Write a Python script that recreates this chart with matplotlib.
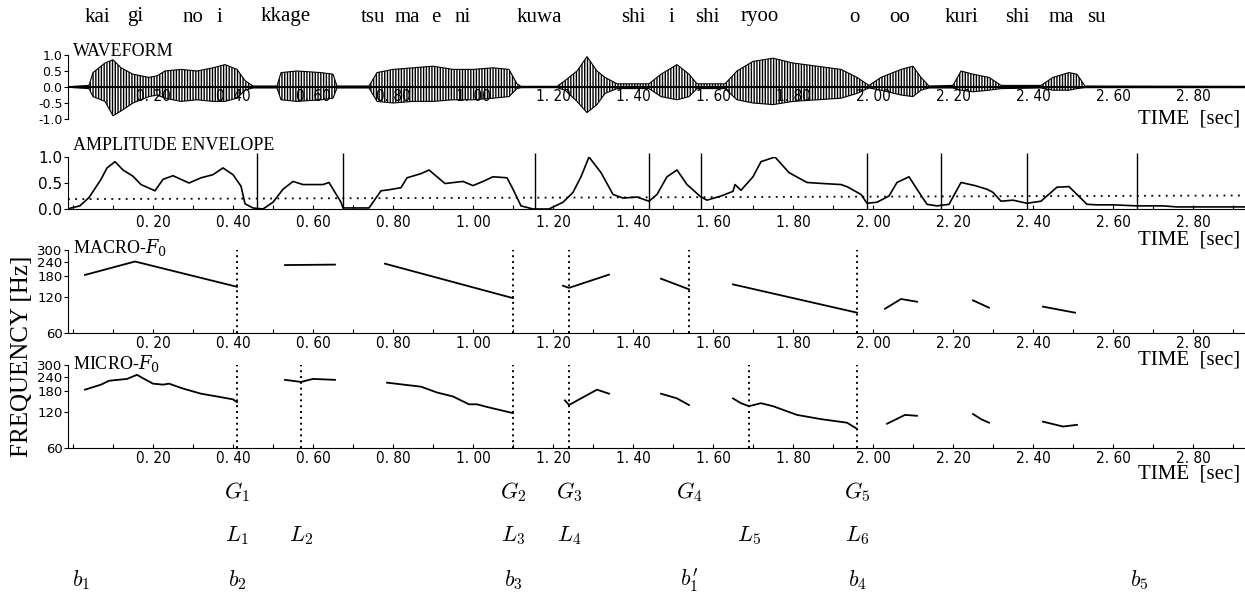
import numpy as np
import matplotlib.pyplot as plt
from matplotlib import font_manager
from matplotlib.ticker import FixedLocator, MultipleLocator

# ---- data (time in sec) ----
syllables = ["kai", "gi", "no", "i", "kkage", "tsu", "ma", "e", "ni", "kuwa",
             "shi", "i", "shi", "ryoo", "o", "oo", "kuri", "shi", "ma", "su"]
syllable_t = [0.03, 0.135, 0.275, 0.36, 0.47, 0.72, 0.805, 0.895, 0.955, 1.11,
              1.37, 1.49, 1.555, 1.67, 1.94, 2.04, 2.18, 2.33, 2.44, 2.535]

wave_t = [0.00, 0.04, 0.05, 0.08, 0.10, 0.12, 0.15, 0.19, 0.21, 0.23, 0.27, 0.31,
          0.35, 0.38, 0.41, 0.43, 0.45, 0.51, 0.52, 0.56, 0.62, 0.65, 0.66, 0.74,
          0.76, 0.80, 0.85, 0.90, 0.95, 1.00, 1.05, 1.09, 1.11, 1.12, 1.21, 1.23,
          1.26, 1.285, 1.31, 1.33, 1.36, 1.44, 1.47, 1.51, 1.54, 1.56, 1.63, 1.66,
          1.70, 1.75, 1.80, 1.86, 1.92, 1.96, 1.99, 2.02, 2.07, 2.10, 2.12, 2.14,
          2.20, 2.22, 2.25, 2.29, 2.32, 2.42, 2.45, 2.49, 2.51, 2.53, 2.93]
wave_hi = [0.02, 0.05, 0.45, 0.75, 0.85, 0.6, 0.4, 0.3, 0.35, 0.5, 0.55, 0.5,
           0.6, 0.7, 0.55, 0.2, 0.03, 0.03, 0.45, 0.5, 0.45, 0.4, 0.03, 0.03,
           0.45, 0.55, 0.6, 0.65, 0.55, 0.55, 0.6, 0.55, 0.1, 0.02, 0.02, 0.2,
           0.5, 0.95, 0.5, 0.3, 0.1, 0.1, 0.4, 0.7, 0.4, 0.1, 0.1, 0.5,
           0.8, 0.9, 0.75, 0.65, 0.55, 0.3, 0.05, 0.3, 0.55, 0.65, 0.3, 0.03,
           0.05, 0.5, 0.4, 0.3, 0.05, 0.05, 0.3, 0.45, 0.4, 0.03, 0.02]
wave_lo = [-0.02, -0.05, -0.3, -0.45, -0.9, -0.75, -0.5, -0.3, -0.25, -0.35, -0.45, -0.4,
           -0.45, -0.45, -0.35, -0.1, -0.03, -0.03, -0.4, -0.45, -0.4, -0.35, -0.03, -0.03,
           -0.45, -0.5, -0.45, -0.45, -0.4, -0.4, -0.35, -0.3, -0.05, -0.02, -0.02, -0.1,
           -0.45, -0.8, -0.55, -0.2, -0.05, -0.05, -0.3, -0.4, -0.3, -0.05, -0.05, -0.4,
           -0.5, -0.55, -0.45, -0.4, -0.35, -0.2, -0.03, -0.1, -0.25, -0.3, -0.1, -0.03,
           -0.03, -0.1, -0.15, -0.1, -0.05, -0.03, -0.1, -0.1, -0.05, -0.02, -0.02]

env_t = [-0.015, 0.017, 0.04, 0.07, 0.085, 0.105, 0.125, 0.15, 0.17, 0.205, 0.225,
         0.25, 0.29, 0.32, 0.35, 0.375, 0.40, 0.42, 0.43, 0.45, 0.475, 0.50, 0.525,
         0.55, 0.575, 0.625, 0.64, 0.67, 0.675, 0.74, 0.77, 0.79, 0.82, 0.835, 0.87,
         0.89, 0.93, 0.975, 1.0, 1.025, 1.05, 1.085, 1.10, 1.12, 1.15, 1.19, 1.225,
         1.25, 1.27, 1.29, 1.32, 1.35, 1.375, 1.41, 1.44, 1.46, 1.485, 1.51, 1.535,
         1.57, 1.585, 1.62, 1.65, 1.655, 1.67, 1.70, 1.72, 1.755, 1.79, 1.835, 1.875,
         1.92, 1.935, 1.97, 1.985, 2.01, 2.04, 2.06, 2.09, 2.11, 2.135, 2.16, 2.19,
         2.22, 2.255, 2.285, 2.30, 2.32, 2.35, 2.385, 2.42, 2.46, 2.49, 2.535, 2.56,
         2.60, 2.66, 2.725, 2.76, 2.93]
env_a = [0.0, 0.06, 0.22, 0.57, 0.79, 0.91, 0.75, 0.63, 0.47, 0.35, 0.57,
         0.64, 0.50, 0.60, 0.66, 0.79, 0.66, 0.44, 0.10, 0.02, 0.0, 0.13, 0.38,
         0.53, 0.47, 0.47, 0.51, 0.13, 0.02, 0.02, 0.35, 0.37, 0.41, 0.60, 0.68,
         0.75, 0.49, 0.53, 0.45, 0.53, 0.62, 0.60, 0.38, 0.06, 0.0, 0.0, 0.13,
         0.32, 0.62, 1.0, 0.70, 0.28, 0.21, 0.23, 0.15, 0.28, 0.62, 0.75, 0.47,
         0.23, 0.17, 0.25, 0.34, 0.47, 0.36, 0.62, 0.91, 1.0, 0.70, 0.51, 0.49,
         0.47, 0.43, 0.28, 0.11, 0.13, 0.25, 0.51, 0.62, 0.38, 0.09, 0.06, 0.09,
         0.51, 0.45, 0.38, 0.32, 0.15, 0.17, 0.11, 0.15, 0.42, 0.43, 0.09, 0.08,
         0.08, 0.06, 0.06, 0.04, 0.04]
env_bounds = [0.46, 0.675, 1.155, 1.44, 1.57, 1.985, 2.17, 2.385, 2.66]
env_thresh = [0.19, 0.26]

macro_t = [[0.03, 0.155, 0.41], [0.53, 0.655], [0.78, 1.10], [1.225, 1.24, 1.34],
           [1.47, 1.54], [1.65, 1.96], [2.03, 2.07, 2.11], [2.25, 2.29], [2.425, 2.505]]
macro_f = [[185, 240, 147], [224, 226], [230, 118], [150, 144, 186],
           [172, 140], [154, 89], [96, 116, 110], [113, 98], [100, 89]]
macro_marks = [0.41, 1.10, 1.24, 1.54, 1.96]

micro_t = [[0.03, 0.07, 0.09, 0.135, 0.16, 0.175, 0.20, 0.225, 0.24, 0.275, 0.32, 0.36, 0.40, 0.41],
           [0.53, 0.57, 0.60, 0.655],
           [0.785, 0.87, 0.91, 0.95, 0.99, 1.01, 1.035, 1.10],
           [1.23, 1.24, 1.27, 1.31, 1.34],
           [1.47, 1.51, 1.54],
           [1.65, 1.67, 1.69, 1.72, 1.75, 1.81, 1.87, 1.935, 1.96],
           [2.035, 2.08, 2.11], [2.25, 2.27, 2.29], [2.425, 2.475, 2.51]]
micro_f = [[186, 205, 221, 229, 248, 232, 209, 205, 209, 190, 172, 163, 154, 146],
           [225, 216, 229, 225],
           [213, 197, 176, 163, 140, 140, 133, 118],
           [151, 138, 157, 186, 172],
           [172, 157, 138],
           [157, 143, 135, 143, 135, 114, 105, 98, 87],
           [96, 114, 112], [116, 105, 98], [100, 91, 94]]
micro_marks = [0.41, 0.57, 1.10, 1.24, 1.69, 1.96]

g_labels = [r"$G_1$", r"$G_2$", r"$G_3$", r"$G_4$", r"$G_5$"]
g_t = [0.41, 1.10, 1.24, 1.54, 1.96]
l_labels = [r"$L_1$", r"$L_2$", r"$L_3$", r"$L_4$", r"$L_5$", r"$L_6$"]
l_t = [0.41, 0.57, 1.10, 1.24, 1.69, 1.96]
b_labels = [r"$b_1$", r"$b_2$", r"$b_3$", r"$b_1^{\prime}$", r"$b_4$", r"$b_5$"]
b_t = [0.02, 0.41, 1.10, 1.54, 1.96, 2.665]

time_ticks = [0.2, 0.4, 0.6, 0.8, 1.0, 1.2, 1.4, 1.6, 1.8, 2.0, 2.2, 2.4, 2.6, 2.8]
freq_ticks = [60, 120, 180, 240, 300]

# ---- styling ----
plt.rcParams['font.family'] = ['Liberation Serif', 'DejaVu Serif']
plt.rcParams['mathtext.fontset'] = 'cm'
plt.rcParams['hatch.linewidth'] = 1.0
names = {f.name for f in font_manager.fontManager.ttflist}
tick_font = 'Liberation Sans Narrow' if 'Liberation Sans Narrow' in names else 'DejaVu Sans'

W, H = 1245, 592
XL = (-0.0125, 2.93)
fig = plt.figure(figsize=(W / 100, H / 100), dpi=100)


def fy(py):
    return 1 - py / H


def panel(top, bottom):
    ax = fig.add_axes([68 / W, fy(bottom), 1 - 68 / W, (bottom - top) / H])
    ax.set_xlim(*XL)
    ax.spines['top'].set_visible(False)
    ax.spines['right'].set_visible(False)
    ax.patch.set_alpha(0)
    return ax


def time_axis(ax, pad):
    ax.xaxis.set_major_locator(FixedLocator(time_ticks))
    ax.xaxis.set_minor_locator(MultipleLocator(0.1))
    ax.set_xticklabels([f"{v:.2f}".replace('.', '. ') for v in time_ticks],
                       fontfamily=tick_font, fontstretch='condensed', fontsize=11)
    ax.tick_params(axis='x', which='both', direction='in', length=3, width=0.8, pad=pad)


def time_label(py):
    fig.text(1240 / W, fy(py), "TIME  [sec]", ha='right', va='center', fontsize=15)


# waveform
ax = panel(55, 119)
ax.fill_between(wave_t, wave_lo, wave_hi, facecolor='white', edgecolor='black',
                hatch='||||||', lw=0.8)
ax.axhline(0, color='black', lw=1.5)
ax.set_ylim(-1, 1)
ax.spines['bottom'].set_visible(False)
ax.spines['left'].set_bounds(-1, 1)
ax.set_yticks([-1, -0.5, 0, 0.5, 1])
ax.set_yticklabels(["-1.0", "-0.5", "0.0", "0.5", "1.0"], fontfamily=tick_font, fontsize=9)
ax.tick_params(axis='y', length=3, pad=1)
time_axis(ax, 0)
ax.tick_params(axis='x', which='both', length=0)
for lab in ax.get_xticklabels():
    lab.set_y(0.47)
fig.text(73 / W, fy(51), "WAVEFORM", fontsize=13, va='center')
time_label(119)

# amplitude envelope
ax = panel(157, 209)
ax.plot(env_t, env_a, color='black', lw=1.2)
ax.plot(XL, env_thresh, color='black', lw=1.3, ls=(0, (1, 3)))
ax.vlines(env_bounds, 0, 1.08, color='black', lw=1, clip_on=False)
ax.set_ylim(0, 1)
ax.spines['left'].set_bounds(0, 1)
ax.set_yticks([0, 0.5, 1])
ax.set_yticklabels(["0.0", "0.5", "1.0"], fontfamily=tick_font, fontsize=11)
ax.tick_params(axis='y', length=3, pad=1)
time_axis(ax, 4)
fig.text(73 / W, fy(146), "AMPLITUDE ENVELOPE", fontsize=13, va='center')
time_label(240)

# F0 panels
for top, bottom, seg_t, seg_f, marks, name, ly, tly in [
        (250, 333, macro_t, macro_f, macro_marks, r"MACRO-$F_0$", 248, 360),
        (365, 448, micro_t, micro_f, micro_marks, r"MICRO-$F_0$", 364, 474)]:
    ax = panel(top, bottom)
    ax.set_yscale('log')
    ax.set_ylim(60, 300)
    for st, sf in zip(seg_t, seg_f):
        ax.plot(st, sf, color='black', lw=1.3)
    ax.vlines(marks, 60, 300, color='black', lw=1.4, ls=(0, (1, 2)))
    ax.spines['left'].set_bounds(60, 300)
    ax.yaxis.set_major_locator(FixedLocator(freq_ticks))
    ax.yaxis.set_minor_locator(FixedLocator([]))
    ax.set_yticklabels([str(v) for v in freq_ticks], fontfamily=tick_font, fontsize=9.5)
    ax.tick_params(axis='y', length=3, pad=1)
    time_axis(ax, 2)
    fig.text(73 / W, fy(ly), name, fontsize=13, va='center',
             math_fontfamily='dejavuserif')
    time_label(tly)

fig.text(22 / W, fy(356), "FREQUENCY [Hz]", rotation=90, ha='center', va='center', fontsize=18)

# syllables along the top
for s, t in zip(syllables, syllable_t):
    fig.text((73 + 400 * t) / W, fy(17), s, fontsize=15, va='center')


def row(labels, times, py):
    for s, t in zip(labels, times):
        fig.text((73 + 400 * t) / W, fy(py), s, ha='center', va='center', fontsize=16)


row(g_labels, g_t, 492)
row(l_labels, l_t, 536)
row(b_labels, b_t, 580)

fig.savefig("out.png", dpi=100)
